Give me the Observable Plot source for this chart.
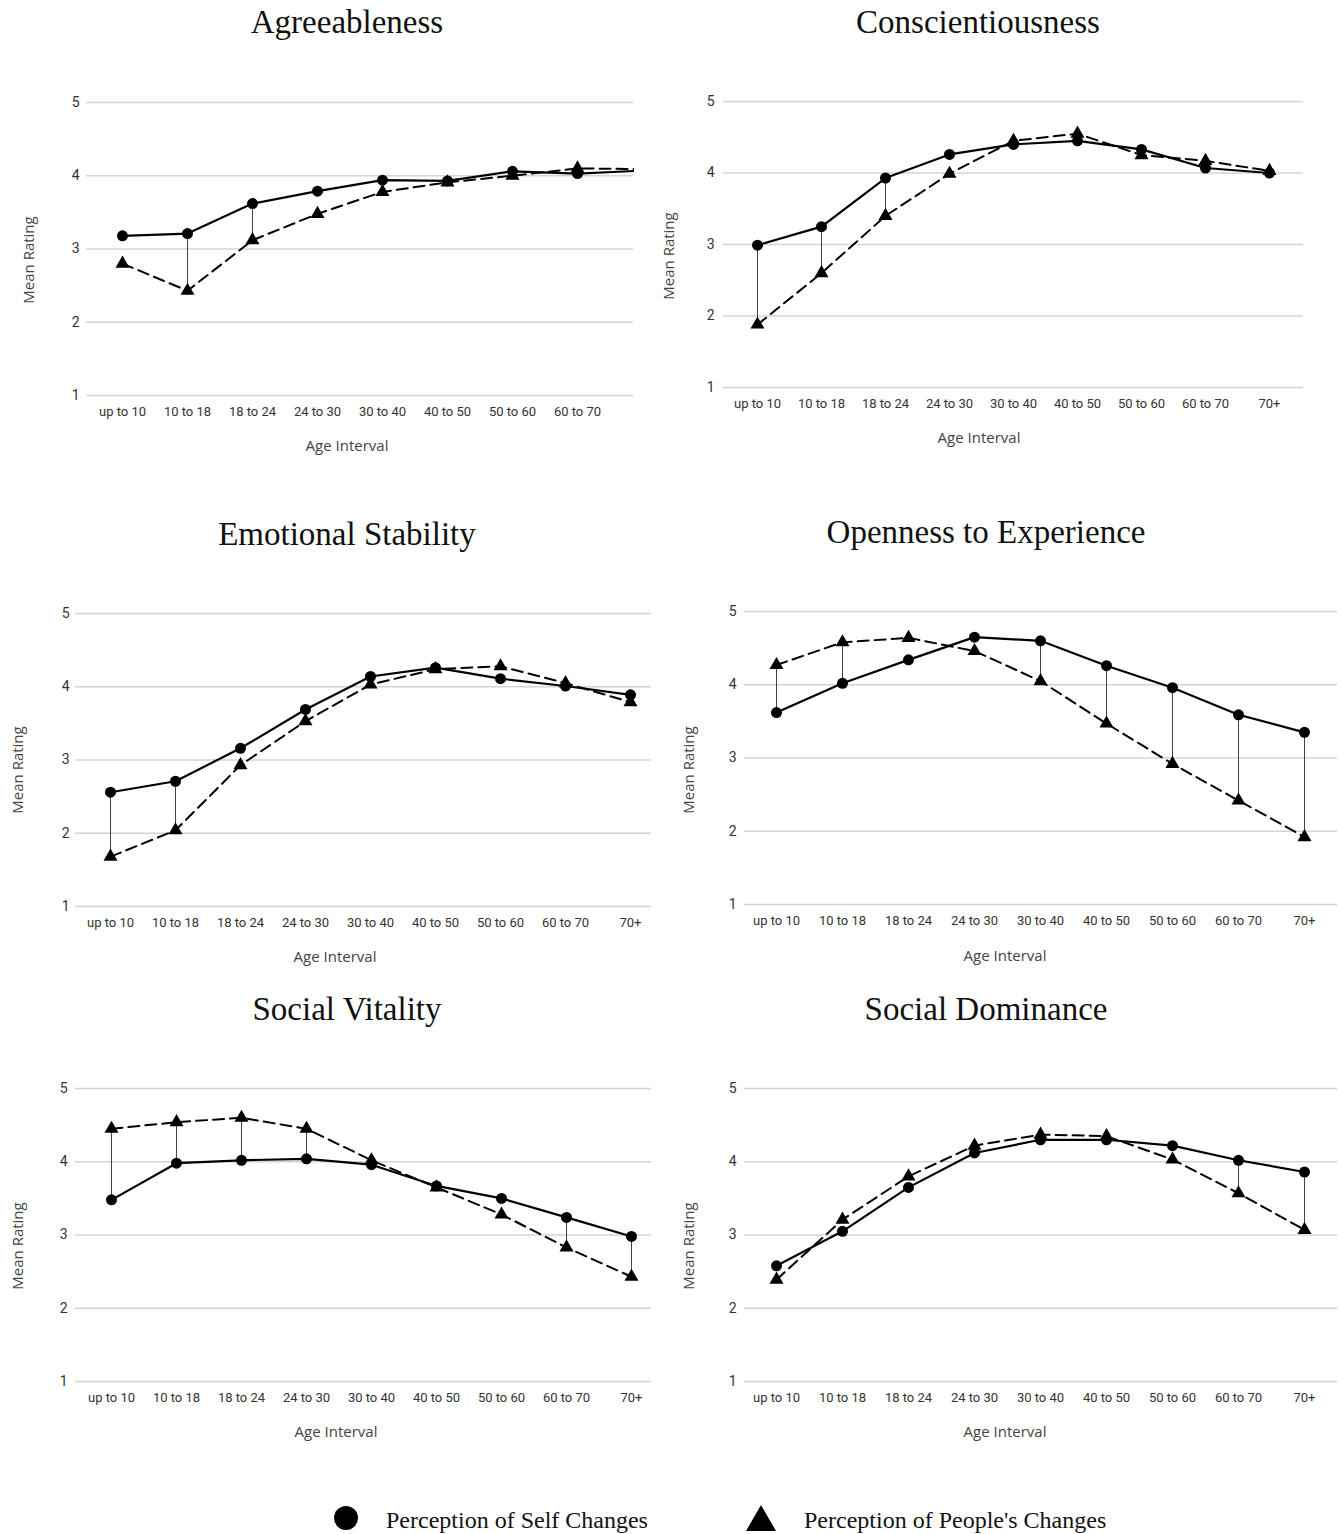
<!DOCTYPE html>
<html>
<head>
<meta charset="utf-8">
<script src="https://cdn.jsdelivr.net/npm/d3@7"></script>
<script src="https://cdn.jsdelivr.net/npm/@observablehq/plot@0.6"></script>
<style>
  body { margin: 0; background: #fff; }
  #root { position: relative; width: 1343px; height: 1534px; overflow: hidden; background: #fff; }
  .title { position: absolute; font-family: "Liberation Serif", "Times New Roman", serif; font-size: 33px; color: #111;
           white-space: nowrap; transform: translate(-50%, -50%); line-height: 1; }
  .axt { position: absolute; font-family: "Open Sans", sans-serif; font-size: 15px; color: #444;
         white-space: nowrap; line-height: 1; }
  .panel { position: absolute; overflow: hidden; }
  .legtext { position: absolute; font-family: "Liberation Serif", "Times New Roman", serif; font-size: 24px; color: #111;
             white-space: nowrap; line-height: 30px; }
</style>
</head>
<body>
<div id="root"></div>
<script>
// ---------------- data ----------------
const ages = ["up to 10", "10 to 18", "18 to 24", "24 to 30", "30 to 40", "40 to 50", "50 to 60", "60 to 70", "70+"];
const yTicks = [1, 2, 3, 4, 5];
const traits = ["Agreeableness", "Conscientiousness", "Emotional Stability", "Openness to Experience", "Social Vitality", "Social Dominance"];
const seriesNames = ["Perception of Self Changes", "Perception of People's Changes"];

const agreeSelf   = [3.18, 3.21, 3.62, 3.79, 3.94, 3.93, 4.06, 4.03, 4.07];
const agreePeople = [2.80, 2.43, 3.12, 3.48, 3.78, 3.91, 4.00, 4.10, 4.09];
const conscSelf   = [2.99, 3.25, 3.93, 4.26, 4.40, 4.45, 4.33, 4.07, 4.00];
const conscPeople = [1.88, 2.60, 3.40, 3.99, 4.45, 4.55, 4.25, 4.17, 4.03];
const emoSelf     = [2.56, 2.71, 3.16, 3.69, 4.14, 4.26, 4.11, 4.01, 3.89];
const emoPeople   = [1.68, 2.04, 2.93, 3.53, 4.03, 4.24, 4.28, 4.05, 3.79];
const openSelf    = [3.62, 4.02, 4.34, 4.65, 4.60, 4.26, 3.96, 3.59, 3.35];
const openPeople  = [4.27, 4.58, 4.64, 4.46, 4.05, 3.47, 2.92, 2.42, 1.92];
const vitSelf     = [3.48, 3.98, 4.02, 4.04, 3.96, 3.67, 3.50, 3.24, 2.98];
const vitPeople   = [4.45, 4.54, 4.60, 4.45, 4.02, 3.65, 3.28, 2.83, 2.43];
const domSelf     = [2.58, 3.05, 3.65, 4.12, 4.30, 4.30, 4.22, 4.02, 3.86];
const domPeople   = [2.39, 3.21, 3.80, 4.22, 4.37, 4.35, 4.03, 3.57, 3.07];

// age intervals with a connector between the two series
const agreeSig = ["10 to 18", "18 to 24"];
const conscSig = ["up to 10", "10 to 18", "18 to 24"];
const emoSig   = ["up to 10", "10 to 18"];
const openSig  = ["up to 10", "10 to 18", "30 to 40", "40 to 50", "50 to 60", "60 to 70", "70+"];
const vitSig   = ["up to 10", "10 to 18", "18 to 24", "24 to 30", "60 to 70", "70+"];
const domSig   = ["60 to 70", "70+"];

// ---------------- layout ----------------
const layouts = [
  {L: 0,   T: 80,   W: 634, H: 380, gridL: 86,  gridR: 633,  y5: 102, y1: 395, x0: 118, x8: 645.7, yLab: 75,
   title: [347, 22],  ylab: [28, 260],  xlab: [347, 445]},
  {L: 650, T: 80,   W: 693, H: 380, gridL: 723, gridR: 1303, y5: 101, y1: 387, x0: 755, x8: 1271,  yLab: 710,
   title: [978, 22],  ylab: [668, 256], xlab: [979, 437]},
  {L: 0,   T: 590,  W: 660, H: 380, gridL: 75,  gridR: 651,  y5: 613, y1: 906, x0: 107, x8: 633,   yLab: 65,
   title: [347, 534], ylab: [17, 770],  xlab: [335, 956]},
  {L: 660, T: 590,  W: 683, H: 380, gridL: 744, gridR: 1337, y5: 611, y1: 904, x0: 776, x8: 1304,  yLab: 732,
   title: [986, 532], ylab: [688, 770], xlab: [1005, 955]},
  {L: 0,   T: 1065, W: 660, H: 380, gridL: 75,  gridR: 651,  y5: 1088, y1: 1381, x0: 107, x8: 634,  yLab: 63,
   title: [347, 1009], ylab: [17, 1246], xlab: [336, 1431]},
  {L: 660, T: 1065, W: 683, H: 380, gridL: 744, gridR: 1337, y5: 1088, y1: 1381, x0: 775, x8: 1304, yLab: 732,
   title: [986, 1009], ylab: [688, 1246], xlab: [1005, 1431]}
];

const panelData = [
  [agreeSelf, agreePeople, agreeSig],
  [conscSelf, conscPeople, conscSig],
  [emoSelf, emoPeople, emoSig],
  [openSelf, openPeople, openSig],
  [vitSelf, vitPeople, vitSig],
  [domSelf, domPeople, domSig]
];

const root = document.getElementById("root");

function addText(cls, text, x, y, extra) {
  const d = document.createElement("div");
  d.className = cls;
  d.textContent = text;
  d.style.left = x + "px";
  d.style.top = y + "px";
  if (extra) Object.assign(d.style, extra);
  root.appendChild(d);
  return d;
}

traits.forEach((name, k) => {
  const p = layouts[k];
  const [selfVals, peopleVals, sig] = panelData[k];
  const data = ages.map((age, i) => ({age, self: selfVals[i], people: peopleVals[i]}));
  const sigData = data.filter(d => sig.includes(d.age));
  // only label the intervals whose position lies inside the visible frame
  const step = (p.x8 - p.x0) / (ages.length - 1);
  const visibleTicks = ages.filter((a, i) => p.x0 + i * step <= p.gridR);

  const chart = Plot.plot({
    width: p.W,
    height: p.H,
    marginLeft: p.gridL - p.L,
    marginRight: p.L + p.W - p.gridR,
    marginTop: p.y5 - p.T,
    marginBottom: p.T + p.H - p.y1,
    style: {fontFamily: "Roboto, sans-serif", fontSize: "13px", color: "#333", background: "transparent", overflow: "hidden"},
    x: {type: "point", domain: ages, range: [p.x0 - p.L, p.x8 - p.L], padding: 0, align: 0.5, label: null},
    y: {domain: [1, 5], label: null},
    marks: [
      Plot.gridY({ticks: yTicks, stroke: "#d4d4d4", strokeOpacity: 1, strokeWidth: 1.3}),
      Plot.axisY({ticks: yTicks, tickFormat: d3.format("d"), tickSize: 0, tickPadding: p.gridL - p.yLab - 4, label: null, fontSize: 14}),
      Plot.axisX({ticks: visibleTicks, tickSize: 0, tickPadding: 11, label: null}),
      Plot.ruleX(sigData, {x: "age", y1: "self", y2: "people", stroke: "#444", strokeWidth: 1}),
      Plot.line(data, {x: "age", y: "people", stroke: "#000", strokeWidth: 2, strokeDasharray: "11,6"}),
      Plot.line(data, {x: "age", y: "self", stroke: "#000", strokeWidth: 2.2}),
      Plot.dot(data, {x: "age", y: "people", symbol: "triangle", r: 5.2, fill: "#000"}),
      Plot.dot(data, {x: "age", y: "self", symbol: "circle", r: 5.5, fill: "#000"})
    ]
  });

  const wrap = document.createElement("div");
  wrap.className = "panel";
  wrap.style.left = p.L + "px";
  wrap.style.top = p.T + "px";
  wrap.style.width = p.W + "px";
  wrap.style.height = p.H + "px";
  wrap.appendChild(chart);
  root.appendChild(wrap);

  addText("title", name, p.title[0], p.title[1]);
  addText("axt", "Mean Rating", p.ylab[0], p.ylab[1], {transform: "translate(-50%, -50%) rotate(-90deg)"});
  addText("axt", "Age Interval", p.xlab[0], p.xlab[1], {transform: "translate(-50%, -50%)"});
});

// ---------------- legend ----------------
const ns = "http://www.w3.org/2000/svg";
const leg = document.createElementNS(ns, "svg");
leg.setAttribute("width", 1343);
leg.setAttribute("height", 40);
leg.style.position = "absolute";
leg.style.left = "0px";
leg.style.top = "1498px";
const c = document.createElementNS(ns, "circle");
c.setAttribute("cx", 346); c.setAttribute("cy", 20); c.setAttribute("r", 12); c.setAttribute("fill", "#000");
leg.appendChild(c);
const t = document.createElementNS(ns, "path");
t.setAttribute("d", "M761,7L776,33L746,33Z"); t.setAttribute("fill", "#000");
leg.appendChild(t);
root.appendChild(leg);
addText("legtext", seriesNames[0], 386, 1505);
addText("legtext", seriesNames[1], 804, 1505);
</script>
</body>
</html>
